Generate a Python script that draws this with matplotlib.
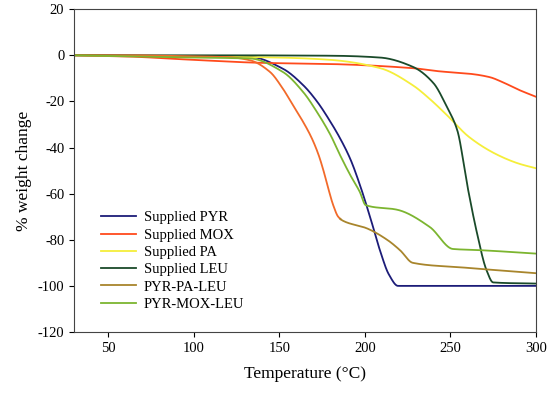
import numpy as np
import matplotlib.pyplot as plt
from matplotlib.lines import Line2D

plt.rcParams['font.family'] = ['Liberation Serif', 'DejaVu Serif']
plt.rcParams['axes.unicode_minus'] = False

# Данные
pyr_t = [30, 60, 100, 133, 152, 164, 172, 180, 185.5, 191.5, 197, 203,
         209, 214, 219.4, 250, 300]
pyr_w = [0, -0.2, -0.4, -0.7, -5.8, -13, -20, -29, -36, -45, -56, -70,
         -85, -95, -100, -100, -100]

mox_t = [30, 60, 100, 140, 180, 228, 244, 261, 273, 280, 290, 300]
mox_w = [0, -0.5, -2, -3.3, -3.8, -5.6, -7, -8, -9.5, -11.5, -15, -18]

pa_t = [30, 60, 100, 150, 180, 209, 228, 238, 248, 261, 277, 290, 300]
pa_w = [0, -0.2, -0.5, -1, -2, -5.6, -13, -19, -26, -35.5, -43, -47, -49]

leu_t = [30, 100, 180, 209, 228, 240, 248, 254, 260, 265.5, 271, 275, 300]
leu_w = [0, 0, -0.2, -1, -5, -12, -22.5, -32.5, -57, -77, -93, -98.5, -99]

ppl_t = [30, 60, 100, 120, 133, 144.5, 152, 158, 164, 169, 173, 176,
         178.6, 181.5, 184.4, 187.3, 201, 213, 220.5, 228, 257, 300]
ppl_w = [0, 0, -0.5, -0.8, -2.2, -7.2, -14.4, -21.7, -29, -36, -43.3, -50.5,
         -57.7, -65, -70, -71.8, -75, -80, -84.5, -90, -92, -94.5]

pml_t = [30, 63, 100, 121, 133, 152, 164, 172, 180, 185.5, 191.5, 197,
         200.5, 219, 238, 251.5, 267, 300]
pml_w = [0, -0.5, -1, -1.2, -1.4, -7.2, -16, -24.6, -34.7, -43.3, -52, -59.2,
         -65, -67, -74.5, -84, -84.5, -86]

labels = ["Supplied PYR", "Supplied MOX", "Supplied PA", "Supplied LEU",
          "PYR-PA-LEU", "PYR-MOX-LEU"]
colors = ["#1c1c78", "#ff4a1c", "#f5ee3a", "#1a4a2a", "#a8852c", "#7cb530"]


def smooth(t, w):
	# монотонная кубическая интерполяция (PCHIP)
	t = np.asarray(t, float)
	w = np.asarray(w, float)
	h = np.diff(t)
	d = np.diff(w) / h
	m = np.zeros_like(w)
	for k in range(1, len(w) - 1):
		if d[k - 1] * d[k] > 0:
			w1 = 2 * h[k] + h[k - 1]
			w2 = h[k] + 2 * h[k - 1]
			m[k] = (w1 + w2) / (w1 / d[k - 1] + w2 / d[k])
	m[0] = d[0]
	m[-1] = d[-1]
	x = np.linspace(t[0], t[-1], 1200)
	i = np.clip(np.searchsorted(t, x) - 1, 0, len(h) - 1)
	s = (x - t[i]) / h[i]
	h00 = 2 * s**3 - 3 * s**2 + 1
	h10 = s**3 - 2 * s**2 + s
	h01 = -2 * s**3 + 3 * s**2
	h11 = s**3 - s**2
	y = h00 * w[i] + h10 * h[i] * m[i] + h01 * w[i + 1] + h11 * h[i] * m[i + 1]
	return x, y


fig = plt.figure(figsize=(5.5, 3.97), dpi=100)
ax = fig.add_axes([0.1345, 0.1637, 0.84, 0.8133])

series = [(pyr_t, pyr_w), (mox_t, mox_w), (pa_t, pa_w), (leu_t, leu_w),
          (ppl_t, ppl_w), (pml_t, pml_w)]
for i, (t, w) in enumerate(series):
	x, y = smooth(t, w)
	if labels[i] == "PYR-PA-LEU":
		# крутой участок выглядит оранжевым
		m = x <= 186
		ax.plot(x[m], y[m], color="#f26a2a", lw=1.3)
		ax.plot(x[x >= 185.5], y[x >= 185.5], color=colors[i], lw=1.3)
	else:
		ax.plot(x, y, color=colors[i], lw=1.3)

handles = [Line2D([], [], color=c, lw=1.3) for c in colors]
ax.legend(handles, labels, loc="upper left", bbox_to_anchor=(0.03, 0.415),
          frameon=False, fontsize=10.5, handlelength=2.4, handletextpad=0.55,
          labelspacing=0.28)

ax.set_xlim(30, 300)
ax.set_ylim(-120, 20)
ax.set_xticks(range(50, 301, 50))
ax.set_yticks(range(-120, 21, 20))
ax.tick_params(direction="out", labelsize=10.5, top=False, right=False)
ax.set_xlabel("Temperature (°C)", fontsize=12.5, labelpad=8)
ax.set_ylabel("% weight change", fontsize=12.5, labelpad=4)
for s in ax.spines.values():
	s.set_linewidth(0.8)
	s.set_color("#444444")

fig.savefig("out.png", dpi=100)
